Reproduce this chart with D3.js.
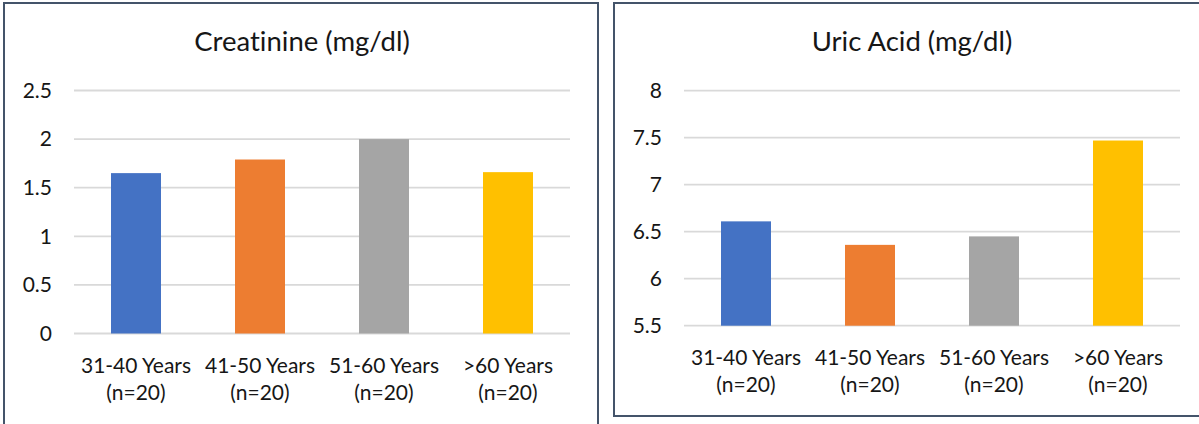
<!DOCTYPE html>
<html>
<head>
<meta charset="utf-8">
<script src="https://cdn.jsdelivr.net/npm/d3@7"></script>
<style>
  html, body { margin: 0; padding: 0; background: #fff; overflow: hidden; }
  svg { display: block; }
  text { font-family: Lato, "Open Sans", sans-serif; fill: #161616; font-variant-ligatures: none; }
</style>
</head>
<body>
<svg id="chart" width="1199" height="424"></svg>
<script>
// Age groups shared by both panels
const categories = ["31-40 Years|(n=20)", "41-50 Years|(n=20)", "51-60 Years|(n=20)", ">60 Years|(n=20)"];
const barColors = ["#4472C4", "#ED7D31", "#A5A5A5", "#FFC000"];

// Mean creatinine (mg/dl) per age group
const creatinine = [1.65, 1.79, 2.0, 1.66];
const creatinineTicks = [0, 0.5, 1, 1.5, 2, 2.5];

// Mean uric acid (mg/dl) per age group
const uricAcid = [6.61, 6.36, 6.45, 7.47];
const uricTicks = [5.5, 6, 6.5, 7, 7.5, 8];

const svg = d3.select("#chart");

function drawPanel(opts) {
  const g = svg.append("g");

  // panel frame
  g.append("rect")
    .attr("x", opts.frame[0]).attr("y", opts.frame[1])
    .attr("width", opts.frame[2]).attr("height", opts.frame[3])
    .attr("fill", "#fff")
    .attr("stroke", "#44546A").attr("stroke-width", 2);

  g.append("text")
    .attr("x", opts.titleX).attr("y", 51)
    .attr("text-anchor", "middle")
    .style("font-size", "27.5px")
    .text(opts.title);

  const x = d3.scaleBand()
    .domain(categories)
    .range([opts.x0, opts.x1])
    .paddingInner(0.5968)
    .paddingOuter(0.2984);

  const y = d3.scaleLinear()
    .domain([opts.ticks[0], opts.ticks[opts.ticks.length - 1]])
    .range([opts.yBottom, opts.yTop]);

  // horizontal gridlines
  g.append("g").selectAll("line")
    .data(opts.ticks)
    .join("line")
    .attr("x1", opts.x0).attr("x2", opts.x1)
    .attr("y1", d => y(d)).attr("y2", d => y(d))
    .attr("stroke", "#D9D9D9").attr("stroke-width", 1.8);

  // value axis labels
  const yAxis = d3.axisLeft(y).tickValues(opts.ticks).tickSize(0).tickPadding(22)
    .tickFormat(d3.format("~g"));
  const ya = g.append("g").attr("transform", `translate(${opts.x0},0)`).call(yAxis);
  ya.select(".domain").remove();
  ya.selectAll("text").attr("font-family", null).attr("font-size", null)
    .style("font-size", "21px").attr("fill", null);

  // bars
  g.append("g").selectAll("rect")
    .data(opts.values)
    .join("rect")
    .attr("x", (d, i) => x(categories[i]))
    .attr("width", x.bandwidth())
    .attr("y", d => y(d))
    .attr("height", d => y(opts.ticks[0]) - y(d))
    .attr("fill", (d, i) => barColors[i]);

  // two-line category labels
  const labels = g.append("g").selectAll("text")
    .data(categories)
    .join("text")
    .attr("text-anchor", "middle")
    .style("font-size", "21px")
    .attr("x", d => x(d) + x.bandwidth() / 2)
    .attr("y", opts.yBottom + 39);
  labels.each(function (d) {
    const parts = d.split("|");
    const t = d3.select(this);
    parts.forEach((p, k) => {
      t.append("tspan")
        .attr("x", x(d) + x.bandwidth() / 2)
        .attr("dy", k === 0 ? 0 : 27.5)
        .text(p);
    });
  });
}

drawPanel({
  frame: [4, 3, 594, 440],
  title: "Creatinine (mg/dl)",
  titleX: 302,
  x0: 74, x1: 570,
  yTop: 90.5, yBottom: 333.5,
  ticks: creatinineTicks,
  values: creatinine
});

drawPanel({
  frame: [614, 3, 596, 413],
  title: "Uric Acid (mg/dl)",
  titleX: 912,
  x0: 684, x1: 1180,
  yTop: 90.7, yBottom: 325.7,
  ticks: uricTicks,
  values: uricAcid
});
</script>
</body>
</html>
